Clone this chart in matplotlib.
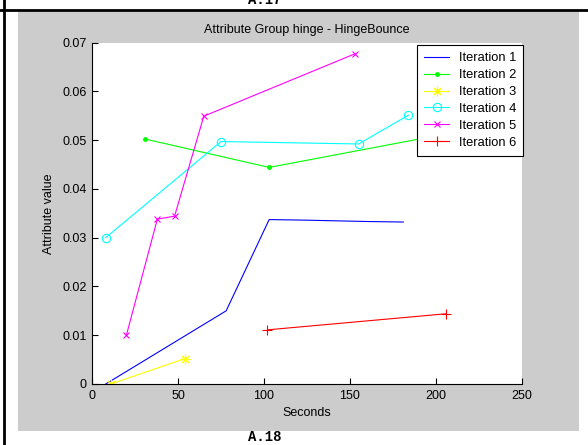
import matplotlib
matplotlib.use("Agg")
import matplotlib.pyplot as plt
from matplotlib.patches import Rectangle
from matplotlib.lines import Line2D

plt.rcParams["font.family"] = ["Liberation Sans", "DejaVu Sans"]

# Attribute values per iteration (time in seconds, value)
iter1_t = [8, 78, 103, 122, 161, 181]
iter1_v = [0.0, 0.0150, 0.0337, 0.0336, 0.0333, 0.0332]

iter2_t = [31, 103, 205]
iter2_v = [0.0502, 0.0444, 0.0512]

iter3_t = [11, 54]
iter3_v = [0.0, 0.0052]

iter4_t = [8, 75, 155, 184]
iter4_v = [0.0300, 0.0497, 0.0492, 0.0551]

iter5_t = [20, 38, 48, 65, 153]
iter5_v = [0.0100, 0.0338, 0.0344, 0.0549, 0.0677]

iter6_t = [102, 206]
iter6_v = [0.0111, 0.0144]

series_labels = ["Iteration 1", "Iteration 2", "Iteration 3",
                 "Iteration 4", "Iteration 5", "Iteration 6"]
x_ticks = [0, 50, 100, 150, 200, 250]
y_ticks = [0, 0.01, 0.02, 0.03, 0.04, 0.05, 0.06, 0.07]
y_tick_labels = ["0", "0.01", "0.02", "0.03", "0.04", "0.05", "0.06", "0.07"]

W, H = 588, 445
fig = plt.figure(figsize=(W / 100, H / 100), dpi=100)
fig.patch.set_facecolor("white")

def fx(px):
    return px / W

def fy(py):
    return 1 - py / H

# grey figure panel
fig.add_artist(Rectangle((fx(18), fy(430.5)), fx(579) - fx(18), fy(11) - fy(430.5),
                         transform=fig.transFigure, facecolor="#cccccc",
                         edgecolor="none", zorder=0))
# page rules
fig.add_artist(Line2D([fx(0), fx(587)], [fy(10), fy(10)], transform=fig.transFigure,
                      color="black", lw=2.0))
fig.add_artist(Line2D([fx(3.5), fx(3.5)], [fy(0), fy(445)], transform=fig.transFigure,
                      color="black", lw=2.0))

mono = dict(family="Liberation Mono", fontweight="bold", fontsize=10)
fig.text(fx(265), fy(4), "A.17", ha="center", va="baseline", **mono)
fig.text(fx(265), fy(441), "A.18", ha="center", va="baseline", **mono)

ax = fig.add_axes([fx(92), fy(384), fx(522) - fx(92), fy(42.5) - fy(384)])
ax.set_facecolor("white")

lw = 0.8
asterisk = (8, 2, 0)
ax.plot(iter1_t, iter1_v, color=(0, 0, 1), lw=lw, label=series_labels[0])
ax.plot(iter2_t, iter2_v, color=(0, 1, 0), lw=lw, marker=".", ms=5, label=series_labels[1])
ax.plot(iter3_t, iter3_v, color=(1, 1, 0), lw=lw, marker=asterisk, ms=7, mew=0.8,
        label=series_labels[2])
ax.plot(iter4_t, iter4_v, color=(0, 1, 1), lw=lw, marker="o", ms=6, mfc="none",
        mew=0.8, label=series_labels[3])
ax.plot(iter5_t, iter5_v, color=(1, 0, 1), lw=lw, marker="x", ms=4.5, mew=0.8,
        label=series_labels[4])
ax.plot(iter6_t, iter6_v, color=(1, 0, 0), lw=lw, marker="+", ms=7, mew=0.8,
        label=series_labels[5])

ax.set_xlim(0, 250)
ax.set_ylim(0, 0.07)
ax.set_xticks(x_ticks)
ax.set_yticks(y_ticks)
ax.set_yticklabels(y_tick_labels)
for s in ("top", "right"):
    ax.spines[s].set_visible(False)
for s in ("left", "bottom"):
    ax.spines[s].set_linewidth(0.8)
ax.tick_params(direction="in", length=4, width=0.8, labelsize=9, pad=4)

font = dict(fontsize=9)
ax.set_title("Attribute Group hinge - HingeBounce", pad=7, **font)
ax.set_xlabel("Seconds", labelpad=4, **font)
ax.set_ylabel("Attribute value", labelpad=5, **font)

leg = ax.legend(loc="upper right", bbox_to_anchor=(fx(523), fy(45)),
                bbox_transform=fig.transFigure, borderaxespad=0,
                prop=dict(size=9.3),
                fancybox=False, framealpha=1, edgecolor="black",
                handlelength=2.0, handletextpad=0.7, labelspacing=0.38,
                borderpad=0.55)
leg.get_frame().set_linewidth(0.8)
leg.set_zorder(10)

fig.savefig("out.png", dpi=100)
